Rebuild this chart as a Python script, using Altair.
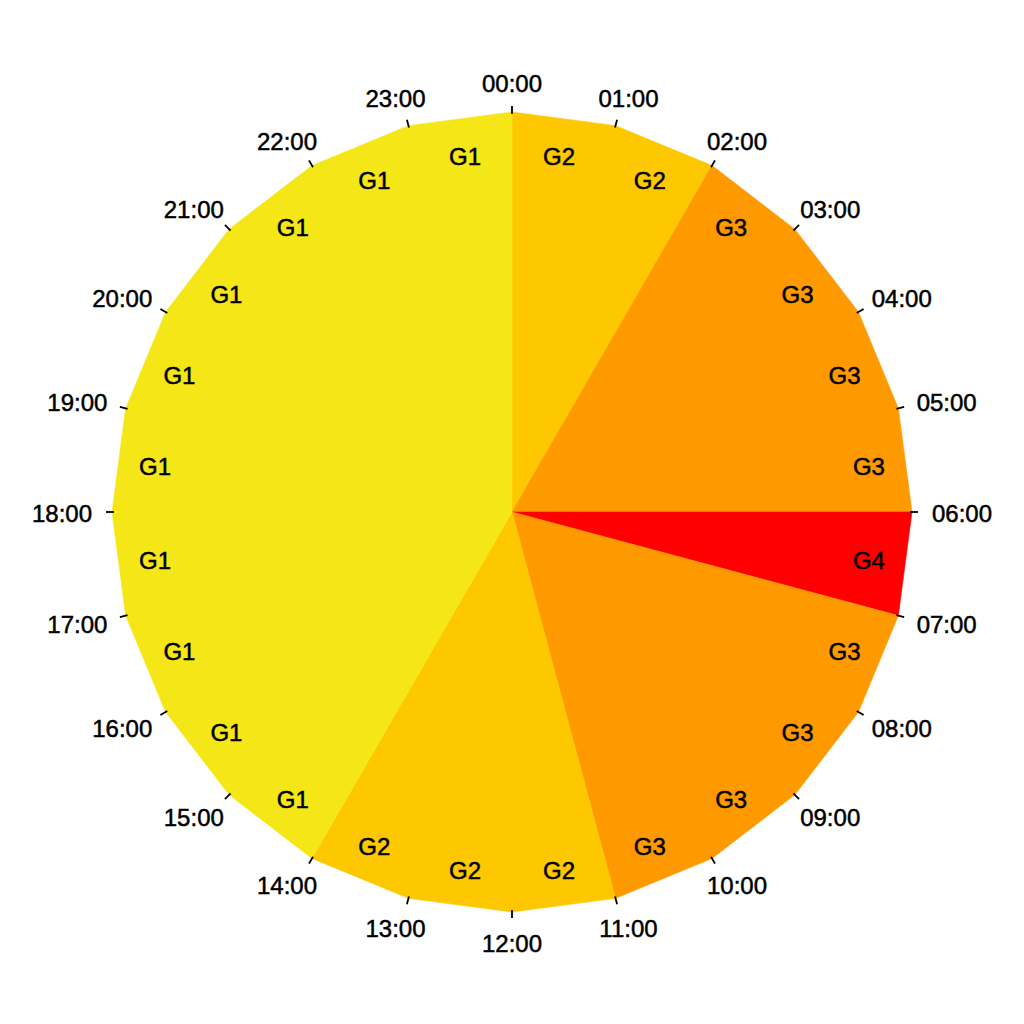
import math
import altair as alt
import pandas as pd

# ---- data ----
hours = list(range(24))
hour_labels = [f"{h:02d}:00" for h in hours]
groups = ["G2", "G2", "G3", "G3", "G3", "G3", "G4", "G3", "G3", "G3", "G3",
          "G2", "G2", "G2", "G1", "G1", "G1", "G1", "G1", "G1", "G1", "G1", "G1", "G1"]
group_names = ["G1", "G2", "G3", "G4"]
group_colors = ["#F5E717", "#FDC800", "#FF9900", "#FF0000"]

N = len(hours)


def pt(h, r=1.0, rx=None, ry=None):
    a = 2 * math.pi * h / N
    rx = r if rx is None else rx
    ry = r if ry is None else ry
    return [rx * math.sin(a), ry * math.cos(a)]


# merge consecutive hours with the same group into one wedge polygon
blocks = []
start = 0
for i in range(1, N + 1):
    if i == N or groups[i] != groups[start]:
        blocks.append((start, i, groups[start]))
        start = i

features = []
for s, e, g in blocks:
    ring = [[0.0, 0.0]] + [pt(h) for h in range(s, e + 1)] + [[0.0, 0.0]]
    features.append({"type": "Feature", "properties": {"group": g},
                     "geometry": {"type": "Polygon", "coordinates": [ring]}})

tick_features = []
for h in hours:
    tick_features.append({"type": "Feature", "properties": {"h": h},
                          "geometry": {"type": "LineString",
                                       "coordinates": [pt(h, 0.995), pt(h, 1.015)]}})

hour_df = pd.DataFrame({
    "label": hour_labels,
    "lon": [pt(h, rx=1.125, ry=1.075)[0] for h in hours],
    "lat": [pt(h, rx=1.125, ry=1.075)[1] for h in hours],
})
grp_df = pd.DataFrame({
    "label": groups,
    "lon": [pt(h + 0.5, 0.9)[0] for h in hours],
    "lat": [pt(h + 0.5, 0.9)[1] for h in hours],
})

W = 1008
proj = dict(type="identity", reflectY=True, scale=400, translate=[504, 504])

poly = alt.Chart(alt.Data(values=features)).mark_geoshape(strokeWidth=0.6).encode(
    fill=alt.Fill("properties.group:N",
                  scale=alt.Scale(domain=group_names, range=group_colors), legend=None),
    stroke=alt.Stroke("properties.group:N",
                      scale=alt.Scale(domain=group_names, range=group_colors), legend=None),
).project(**proj)

ticks = alt.Chart(alt.Data(values=tick_features)).mark_geoshape(
    filled=False, stroke="black", strokeWidth=1.8
).encode(detail=alt.Detail("properties.h:Q")).project(**proj)

text_style = dict(font="Liberation Sans", fontSize=24, color="black", align="center",
                  baseline="middle", dy=3, stroke="black", strokeWidth=0.5)

hour_text = alt.Chart(hour_df).mark_text(**text_style).encode(
    longitude="lon:Q", latitude="lat:Q", text="label:N").project(**proj)

grp_text = alt.Chart(grp_df).mark_text(**text_style).encode(
    longitude="lon:Q", latitude="lat:Q", text="label:N").project(**proj)

chart = alt.layer(poly, ticks, hour_text, grp_text).properties(
    width=W, height=W, padding=0, autosize=alt.AutoSizeParams(type="none"),
    background="white",
).configure_view(stroke=None).resolve_scale(fill="independent", stroke="independent")

chart.save("out.html", embed_options={"renderer": "svg", "actions": False})
